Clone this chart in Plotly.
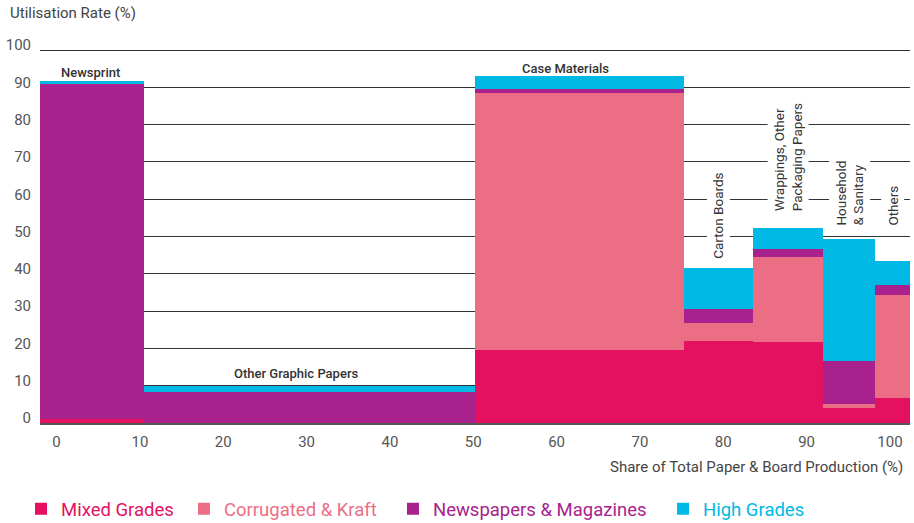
import plotly.graph_objects as go

# ---- data ----
categories = ["Newsprint", "Other Graphic Papers", "Case Materials", "Carton Boards",
              "Wrappings, Other<br>Packaging Papers", "Household<br>& Sanitary", "Others"]
shares = [12, 38, 24, 8, 8, 6, 4]  # share of total paper & board production (%)
mixed_grades = [1.0, 0.0, 19.5, 22.0, 21.7, 4.0, 6.7]
corrugated_kraft = [0.0, 0.0, 69.0, 4.8, 22.8, 1.1, 27.6]
newspapers_magazines = [89.9, 8.3, 1.0, 3.7, 2.1, 11.5, 2.7]
high_grades = [0.8, 1.6, 3.6, 11.0, 5.7, 32.7, 6.4]
x_ticks = [0, 10, 20, 30, 40, 50, 60, 70, 80, 90, 100]
y_ticks = [0, 10, 20, 30, 40, 50, 60, 70, 80, 90, 100]

series = [
    ("Mixed Grades", mixed_grades, "#E31160"),
    ("Corrugated & Kraft", corrugated_kraft, "#EC6E85"),
    ("Newspapers & Magazines", newspapers_magazines, "#A8218C"),
    ("High Grades", high_grades, "#00B9E4"),
]

# bar geometry derived from shares
lefts = []
acc = 0
for s in shares:
    lefts.append(acc)
    acc += s
centers = [l + s / 2 for l, s in zip(lefts, shares)]
totals = [sum(v) for v in zip(mixed_grades, corrugated_kraft, newspapers_magazines, high_grades)]

FONT = "Roboto"
legend_ids = ["legend", "legend2", "legend3", "legend4"]
legend_x = [-0.0218, 0.1655, 0.4057, 0.7161]

fig = go.Figure()
for (name, vals, col), lid in zip(series, legend_ids):
    fig.add_trace(go.Bar(
        x=centers, y=vals, width=shares, marker=dict(color=col, line=dict(width=0)),
        name=f'<span style="color:{col}">{name}</span>', hoverinfo="skip", legend=lid,
    ))
# invisible trace so the label axis renders
fig.add_trace(go.Scatter(x=[x_ticks[0]], y=[0], xaxis="x2", mode="markers",
                         marker=dict(opacity=0), showlegend=False, hoverinfo="skip"))

# category labels
horiz_yshift = [-1, 3, -2]
horiz_xshift = [-2, -14, -14]
for i in range(3):
    fig.add_annotation(x=centers[i], y=totals[i], text=categories[i], showarrow=False,
                       yanchor="bottom", yshift=horiz_yshift[i], xshift=horiz_xshift[i],
                       font=dict(family=FONT, size=13, color="#333", weight=500))
vert_y = [44.2, 57.1, 53.1, 53.1]
for j, i in enumerate(range(3, 7)):
    fig.add_annotation(x=centers[i], y=vert_y[j], text=categories[i], showarrow=False,
                       textangle=-90, yanchor="bottom", xanchor="center", align="left",
                       bgcolor="white", borderpad=3, yshift=-5,
                       font=dict(family=FONT, size=13.5, color="#333"))

fig.add_annotation(xref="paper", yref="paper", x=-0.0368, y=1.0965, xanchor="left",
                   yanchor="middle", text="Utilisation Rate (%)", showarrow=False,
                   font=dict(family=FONT, size=15, color="#444"))
fig.add_annotation(xref="paper", yref="paper", x=0.9943, y=-0.118, xanchor="right",
                   yanchor="middle", text="Share of Total Paper & Board Production (%)",
                   showarrow=False, font=dict(family=FONT, size=15, color="#444"))

layout_legends = {}
for lid, lx in zip(legend_ids, legend_x):
    layout_legends[lid] = dict(orientation="h", x=lx, y=-0.2306, xanchor="left",
                               yanchor="middle", font=dict(family=FONT, size=18.5))

fig.update_layout(
    width=914, height=523,
    margin=dict(l=40, r=4, t=49, b=100, autoexpand=False),
    paper_bgcolor="white", plot_bgcolor="white",
    barmode="stack", bargap=0,
    font=dict(family=FONT, size=15, color="#555"),
    xaxis=dict(range=[0, 100], showticklabels=False, showgrid=False, zeroline=False,
               showline=True, linecolor="#555", linewidth=2, automargin=False),
    xaxis2=dict(range=[-1.99, 102.41], overlaying="x", side="bottom", anchor="y",
                tickvals=x_ticks, showgrid=False, zeroline=False, showline=False,
                automargin=False, ticklabelstandoff=8,
                tickfont=dict(family=FONT, size=15, color="#555")),
    yaxis=dict(range=[0, 100.3], tickvals=y_ticks, showgrid=True, gridcolor="#333",
               gridwidth=1, zeroline=False, showline=False, ticklabelstandoff=8,
               ticklabelshift=-5, automargin=False,
               tickfont=dict(family=FONT, size=15, color="#555")),
    showlegend=True,
    **layout_legends,
)

fig.write_html("out.html", config={"displayModeBar": False},
               post_script="document.body.style.margin='0';document.body.style.overflow='hidden';")
